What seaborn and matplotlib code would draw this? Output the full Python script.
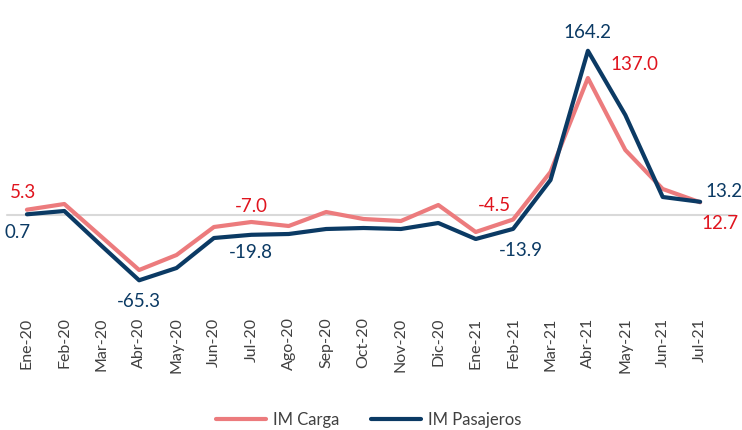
import matplotlib
matplotlib.use("Agg")
import matplotlib.pyplot as plt
import seaborn as sns
import pandas as pd

sns.set_theme(style="white")
plt.rcParams['font.family'] = ['Lato', 'DejaVu Sans']

meses = ["Ene-20", "Feb-20", "Mar-20", "Abr-20", "May-20", "Jun-20", "Jul-20",
         "Ago-20", "Sep-20", "Oct-20", "Nov-20", "Dic-20", "Ene-21", "Feb-21",
         "Mar-21", "Abr-21", "May-21", "Jun-21", "Jul-21"]
carga = [5.3, 11, -22, -55, -40, -12, -7.0, -11, 3, -4, -6, 10, -17, -4.5,
         43, 137.0, 65, 26, 12.7]
pasajeros = [0.7, 4, -31, -65.3, -53, -23, -19.8, -19, -14, -13, -14, -8, -24, -13.9,
             35, 164.2, 100, 18, 13.2]

# etiquetas: (indice, dx, dy)
etiq_carga = [(0, -0.1, 17), (6, 0.0, 15), (13, -0.5, 14), (15, 1.25, 13), (18, 0.52, -21)]
etiq_pas = [(0, -0.25, -18), (3, 0.0, -21), (6, 0.0, -18), (13, 0.2, -22),
            (15, 0.0, 18), (18, 0.63, 10)]

rojo_linea = "#EC7B7D"
rojo_txt = "#E0141E"
azul = "#0B3A64"

df = pd.DataFrame({
    "idx": list(range(len(meses))) * 2,
    "valor": carga + pasajeros,
    "serie": ["IM Carga"] * len(meses) + ["IM Pasajeros"] * len(meses),
})

fig = plt.figure(figsize=(7.42, 4.30), dpi=100)
ax = fig.add_axes([0, 1 - 305 / 430, 1, 300 / 430])

ax.axhline(0, xmin=0.01, xmax=0.99, color="#D9D9D9", linewidth=1.5, zorder=1)
sns.lineplot(data=df, x="idx", y="valor", hue="serie",
             palette={"IM Carga": rojo_linea, "IM Pasajeros": azul},
             linewidth=3, ax=ax, zorder=3)

for i, dx, dy in etiq_carga:
    ax.text(i + dx, carga[i] + dy, f"{carga[i]:.1f}", color=rojo_txt,
            fontsize=13.5, ha="center", va="center")
for i, dx, dy in etiq_pas:
    ax.text(i + dx, pasajeros[i] + dy, f"{pasajeros[i]:.1f}", color=azul,
            fontsize=13.5, ha="center", va="center")

ax.set_xlim(-0.72, 19.12)
ax.set_ylim(-90, 210)
ax.set_xticks(range(len(meses)))
ax.set_xticklabels(meses, rotation=90, fontsize=11.5, color="#404040")
ax.tick_params(axis="x", length=0, pad=9)
ax.set_yticks([])
ax.set_xlabel("")
ax.set_ylabel("")
for s in ax.spines.values():
    s.set_visible(False)

ax.legend(loc="upper center", bbox_to_anchor=(0.497, -0.305), ncol=2, frameon=False,
          fontsize=12, handlelength=3.0, handletextpad=0.4, columnspacing=1.9,
          labelcolor="#404040")

fig.savefig("out.png", dpi=100)
